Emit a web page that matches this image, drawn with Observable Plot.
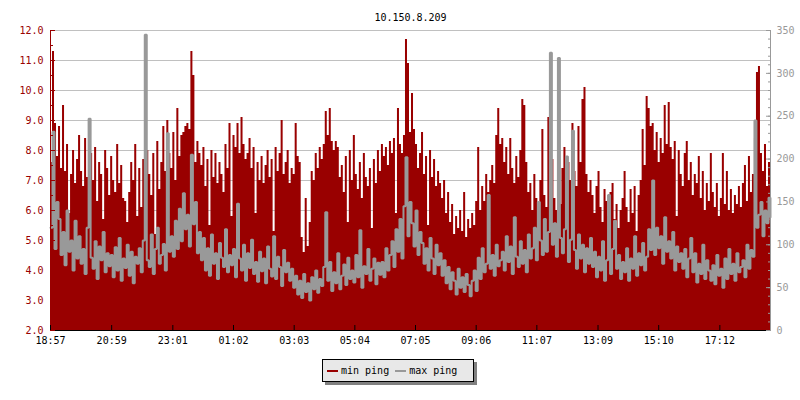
<!DOCTYPE html>
<html>
<head>
<meta charset="utf-8">
<script src="https://cdn.jsdelivr.net/npm/d3@7"></script>
<script src="https://cdn.jsdelivr.net/npm/@observablehq/plot@0.6"></script>
<style>
  body { margin: 0; background: white; }
  #wrap { position: relative; width: 800px; height: 400px; font-family: "DejaVu Sans Mono", monospace; font-size: 10px; }
  #legend { position: absolute; left: 322px; top: 359px; width: 152px; height: 23px; box-sizing: border-box;
            background: #e8e8e8; border: 1px solid #000; box-shadow: 3px 3px 0 #808080;
            display: flex; align-items: center; padding-left: 4px; }
  .sw { display: inline-block; width: 11px; height: 2px; margin-right: 3px; }
  .item { display: flex; align-items: center; margin-right: 6px; }
</style>
</head>
<body>
<div id="wrap"><div id="legend"></div></div>
<script>
const title = "10.150.8.209";
const seriesNames = ["min ping", "max ping"];
const seriesColors = ["#990000", "#999999"];
const xTickLabels = ["18:57","20:59","23:01","01:02","03:03","05:04","07:05","09:06","11:07","13:09","15:10","17:12"];
const leftTicks = [2,3,4,5,6,7,8,9,10,11,12];
const rightTicks = [0,50,100,150,200,250,300,350];

// min ping (left axis), one sample every 4 minutes starting 18:57
const minPing = [
7.6,11.3,8.9,7.8,8.8,7.4,9.5,7.3,8.2,5.9,7.2,8.0,6.9,7.7,8.5,
7.3,6.8,8.4,7.1,5.4,7.9,7.0,8.1,6.3,7.6,7.2,5.7,8.0,7.4,6.5,
7.8,7.0,6.6,8.2,6.9,7.5,6.4,6.3,5.6,6.6,7.6,7.0,8.2,5.8,7.4,
6.1,7.7,6.9,8.0,7.2,6.5,7.9,5.2,8.3,6.7,7.6,8.8,7.3,9.0,7.9,
7.4,8.6,7.0,9.4,7.8,8.5,8.6,8.8,8.9,8.7,11.3,10.5,7.6,8.3,7.9,
7.5,8.1,6.8,7.7,5.5,8.0,7.1,7.9,6.9,7.6,7.2,6.6,8.2,7.4,8.9,
5.8,8.5,8.1,8.9,7.9,9.1,8.2,7.7,7.9,8.4,7.4,8.1,5.9,7.6,7.0,
7.8,6.9,7.5,8.0,7.1,7.7,5.3,8.1,7.3,7.9,9.0,7.2,7.6,8.0,6.9,
7.4,7.2,8.9,7.8,7.6,5.1,4.6,6.4,4.8,5.6,7.3,7.0,7.9,7.4,8.1,
7.7,8.2,9.3,8.5,9.4,8.3,8.0,8.3,8.1,7.1,7.5,6.6,7.8,5.6,8.0,
7.0,8.5,7.2,6.7,7.6,6.4,7.9,7.1,6.8,7.4,5.4,7.7,6.9,8.0,7.3,
8.2,7.8,8.1,7.5,8.3,7.9,8.4,5.9,9.4,8.2,7.9,8.5,11.7,10.9,8.6,
9.9,8.7,8.2,7.4,7.9,8.6,7.2,7.8,5.5,8.0,7.1,7.7,6.8,7.3,6.9,
6.4,7.0,5.9,6.6,5.6,6.2,5.2,5.8,5.4,6.0,5.3,6.6,5.1,5.7,5.4,
5.9,5.5,6.3,8.1,6.0,6.8,6.3,7.2,6.6,7.0,7.5,6.9,8.5,9.4,8.2,
8.4,7.6,8.1,7.2,8.4,7.4,6.9,7.8,7.1,8.0,9.7,9.5,7.6,6.6,6.9,
6.0,7.2,6.4,5.8,7.0,8.7,6.5,6.1,9.1,6.3,7.7,6.4,6.0,6.8,6.2,
7.4,8.1,6.9,7.6,7.0,8.9,7.3,6.8,8.8,7.6,9.7,10.1,7.2,6.6,7.0,
6.5,5.9,6.8,7.3,6.1,5.6,6.7,6.3,5.8,6.6,6.9,5.7,6.2,5.4,6.0,
6.4,7.3,6.1,5.6,6.7,5.9,6.8,5.3,6.5,7.0,8.7,7.5,9.8,9.4,8.8,
8.9,8.0,8.6,7.6,8.4,7.9,9.5,8.2,9.6,8.1,7.7,8.3,5.8,8.0,7.2,
6.8,7.9,8.3,7.0,7.6,6.5,7.2,6.9,7.8,6.4,7.3,6.0,6.9,6.3,7.9,
6.6,6.1,6.9,5.8,6.4,7.9,6.2,7.3,6.0,6.7,5.9,6.5,6.2,6.8,6.1,
6.9,7.5,6.3,7.8,6.6,7.2,8.4,10.6,10.8,7.9,7.3,8.2,6.8,7.6,9.4
];

// max ping (right axis)
const maxPing = [
120,232,95,150,130,88,115,76,140,92,105,70,128,84,110,
78,95,66,120,247,85,72,104,60,98,82,115,68,90,75,
88,62,97,70,108,58,84,73,100,64,92,55,86,78,96,
68,105,345,82,74,112,66,95,120,78,88,101,70,230,92,
110,86,128,95,142,104,160,118,135,98,205,124,150,90,115,
82,108,70,96,64,112,78,90,60,102,85,74,118,68,88,
76,95,62,148,84,70,100,58,90,73,106,66,80,57,92,
69,84,55,98,72,63,110,60,86,74,52,94,68,79,58,
72,50,64,42,58,38,66,45,55,35,62,48,70,44,60,
52,74,138,58,80,46,68,55,90,48,64,77,53,85,60,
70,56,88,62,117,50,75,66,95,58,72,84,54,79,65,
80,62,96,70,88,104,74,118,92,130,84,145,202,110,150,
125,98,140,88,115,102,78,96,70,108,84,66,100,76,90,
64,82,55,74,48,68,58,42,72,50,62,45,66,53,40,
58,70,46,85,60,96,68,78,158,72,88,64,100,75,82,
92,70,110,80,98,66,132,86,74,104,78,94,68,112,84,
96,120,82,150,105,88,130,92,115,324,100,125,86,318,108,
90,118,203,80,106,233,94,72,112,84,100,68,96,78,108,
74,92,62,86,70,104,58,82,158,66,95,128,72,88,60,
80,68,96,58,84,72,110,64,90,76,102,70,86,118,94,
175,88,120,96,110,78,132,92,104,84,115,70,98,80,90,
72,95,62,84,108,68,90,56,78,66,100,60,82,70,58,
76,54,88,64,72,50,84,60,95,66,78,58,90,68,74,
82,62,100,72,94,86,245,120,135,150,110,140,125,155,132
];

const t0 = Date.UTC(2024, 0, 1, 18, 57);
const stepMs = 4 * 60000;
const data = minPing.map((m, i) => ({ t: new Date(t0 + i * stepMs), min: m, max: maxPing[i] }));
const toLeft = v => 2 + v / 35;
const fromLeft = y => (y - 2) * 35;

const xTicks = xTickLabels.map(s => {
  const [h, m] = s.split(":").map(Number);
  return new Date(Date.UTC(2024, 0, h >= 18 ? 1 : 2, h, m));
});
const leftMinor = d3.range(2, 12.01, 0.5);
const rightMinor = d3.range(0, 351, 10);
const fmt = d3.utcFormat("%H:%M");
const first = data[0].t, last = data[data.length - 1].t;

const chart = Plot.plot({
  width: 800, height: 400,
  marginTop: 30, marginBottom: 70, marginLeft: 50, marginRight: 30,
  style: { fontFamily: "DejaVu Sans Mono", fontSize: "10px", background: "white" },
  x: { type: "utc", domain: [first, last], label: null },
  y: { domain: [2, 12], label: null },
  marks: [
    Plot.gridY(leftTicks, { stroke: "#c0c0c0", strokeOpacity: 1 }),
    Plot.areaY(data, { x: "t", y1: 2, y2: "min", curve: "step-after", fill: seriesColors[0] }),
    Plot.lineY(data, { x: "t", y: d => toLeft(d.max), curve: "step-after", stroke: seriesColors[1], strokeWidth: 2, strokeLinejoin: "miter" }),
    Plot.ruleY([2], { stroke: "black" }),
    Plot.ruleX([first], { stroke: seriesColors[0] }),
    Plot.ruleX([last], { stroke: seriesColors[1] }),
    Plot.axisX(xTicks, { tickSize: 0, tickPadding: 6, tickFormat: fmt, fill: "black", label: null, fontSize: 10 }),
    Plot.axisX(xTicks, { tickSize: -5, tickFormat: () => "", stroke: "black", label: null }),
    Plot.axisY(leftTicks, { anchor: "left", tickSize: 0, tickPadding: 7, tickFormat: d => d.toFixed(1), fill: seriesColors[0], label: null, fontSize: 10 }),
    Plot.axisY(leftTicks, { anchor: "left", tickSize: -5, tickFormat: () => "", stroke: seriesColors[0], label: null }),
    Plot.axisY(leftMinor, { anchor: "left", tickSize: -3, tickFormat: () => "", stroke: seriesColors[0], label: null }),
    Plot.axisY(rightTicks.map(toLeft), { anchor: "right", tickSize: 0, tickPadding: 6, tickFormat: d => String(Math.round(fromLeft(d))), fill: seriesColors[1], label: null, fontSize: 10 }),
    Plot.axisY(rightTicks.map(toLeft), { anchor: "right", tickSize: -5, tickFormat: () => "", stroke: seriesColors[1], label: null }),
    Plot.axisY(rightMinor.map(toLeft), { anchor: "right", tickSize: -3, tickFormat: () => "", stroke: seriesColors[1], label: null }),
    Plot.text([title], { frameAnchor: "top", dy: -17, fill: "black", fontSize: 10 })
  ]
});
const wrap = document.getElementById("wrap");
wrap.insertBefore(chart, wrap.firstChild);

const legend = document.getElementById("legend");
seriesNames.forEach((n, i) => {
  const it = document.createElement("span");
  it.className = "item";
  const sw = document.createElement("span");
  sw.className = "sw";
  sw.style.background = seriesColors[i];
  it.appendChild(sw);
  it.appendChild(document.createTextNode(n));
  legend.appendChild(it);
});
</script>
</body>
</html>
